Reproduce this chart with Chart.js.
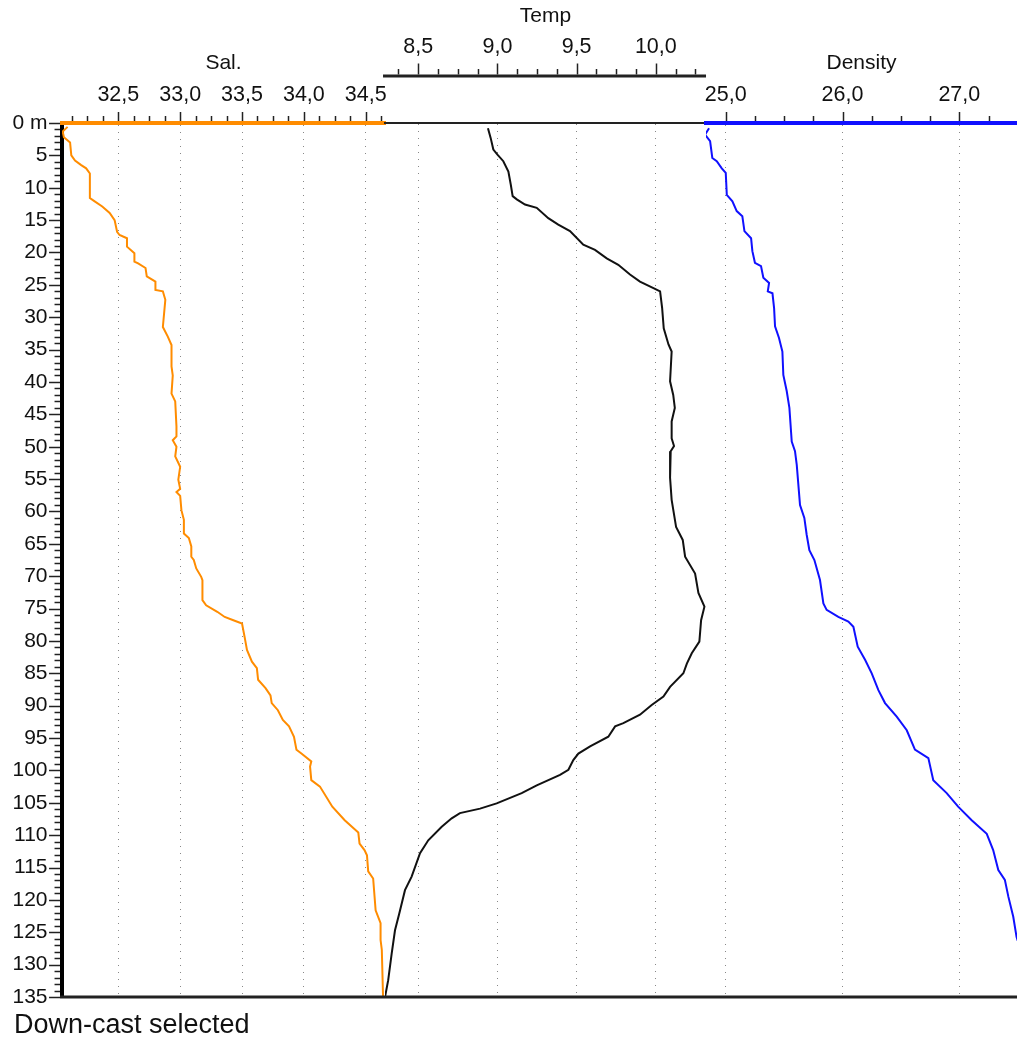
<!DOCTYPE html>
<html lang="en">
<head>
  <meta charset="UTF-8">
  <title>CTD profile</title>
  <script src="https://cdn.jsdelivr.net/npm/chart.js"></script>
  <style>
    html, body {
      margin: 0;
      background: #fff;
      font-family: "Liberation Sans", Arial, sans-serif;
    }
    #wrap {
      position: relative;
      width: 1017px;
      height: 1038px;
    }
    #status {
      position: absolute;
      left: 14px;
      top: 1011px;
      font-size: 27px;
      line-height: 1;
      color: #111;
    }
  </style>
</head>
<body>

<div id="wrap">
  <canvas id="profile"></canvas>
  <div id="status">Down-cast selected</div>
</div>

<script>
// tick labels
const depthTicks = [0, 5, 10, 15, 20, 25, 30, 35, 40, 45, 50, 55, 60, 65, 70, 75, 80, 85, 90, 95, 100, 105, 110, 115, 120, 125, 130, 135];
const salTicks = [32.5, 33.0, 33.5, 34.0, 34.5];
const tempTicks = [8.5, 9.0, 9.5, 10.0];
const densTicks = [25.0, 26.0, 27.0];

// axis limits
const salRange = [32.045, 34.656];
const tempRange = [8.29, 10.317];
const densRange = [24.831, 27.494];

// salinity
const salDepth = [0.6, 1.3, 2.2, 3.0, 5.0, 5.8, 6.5, 7.0, 7.8, 11.6, 12.0, 12.9, 13.9, 15.0, 16.8, 17.3, 17.8, 19.1, 20.1, 21.4,
  21.7, 22.4, 23.7, 24.5, 25.8, 26.0, 27.3, 31.5, 33.0, 34.3, 37.6, 39.0, 41.8, 43.0, 46.9, 48.4, 49.0, 50.0, 51.5, 53.1,
  55.1, 56.5, 57.0, 57.6, 59.8, 61.3, 63.4, 64.1, 65.4, 67.0, 67.5, 68.8, 70.1, 70.6, 73.7, 74.5, 75.5, 76.3, 76.8, 77.3,
  79.3, 81.4, 83.2, 84.2, 86.0, 87.3, 88.4, 89.6, 90.7, 92.2, 93.2, 94.8, 96.8, 97.4, 98.6, 99.4, 101.5, 102.5, 105.6, 107.7,
  109.6, 111.3, 112.3, 113.1, 115.6, 116.7, 121.6, 123.6, 126.2, 127.7, 135.0];
const salValues = [32.09, 32.05, 32.06, 32.11, 32.12, 32.15, 32.20, 32.24, 32.27, 32.27, 32.30, 32.37, 32.43, 32.47, 32.49, 32.51, 32.57, 32.57, 32.63, 32.63,
  32.66, 32.72, 32.73, 32.80, 32.80, 32.86, 32.88, 32.86, 32.90, 32.93, 32.93, 32.94, 32.93, 32.96, 32.97, 32.97, 32.94, 32.97, 32.96, 33.00,
  32.985, 33.00, 32.97, 33.00, 33.01, 33.03, 33.03, 33.07, 33.09, 33.09, 33.11, 33.13, 33.17, 33.18, 33.18, 33.21, 33.30, 33.36, 33.43, 33.50,
  33.52, 33.54, 33.58, 33.62, 33.63, 33.69, 33.73, 33.74, 33.79, 33.83, 33.88, 33.92, 33.94, 33.98, 34.06, 34.05, 34.06, 34.13, 34.23, 34.33,
  34.44, 34.45, 34.49, 34.51, 34.52, 34.56, 34.58, 34.62, 34.62, 34.63, 34.64];

// temperature
const tempDepth = [0.8, 2.3, 4.1, 4.9, 5.9, 7.5, 9.5, 11.3, 11.8, 12.6, 13.1, 14.7, 15.7, 16.7, 18.8, 19.6, 20.9, 21.9, 23.4, 24.5,
  25.5, 26.0, 28.6, 31.7, 34.2, 35.3, 39.9, 42.0, 44.0, 46.1, 48.7, 49.9, 50.7, 54.8, 58.2, 62.4, 64.4, 67.0, 69.6, 72.6,
  74.7, 76.8, 80.1, 81.9, 83.5, 85.0, 87.1, 88.6, 89.9, 91.4, 92.7, 93.2, 94.8, 96.3, 97.4, 98.4, 99.9, 100.7, 102.3, 103.5,
  105.1, 105.9, 106.6, 107.4, 108.7, 110.8, 112.8, 116.4, 118.5, 122.1, 124.7, 128.3, 132.4, 135.0];
const tempValues = [8.94, 8.957, 8.974, 9.0, 9.037, 9.069, 9.084, 9.096, 9.122, 9.174, 9.248, 9.321, 9.384, 9.458, 9.542, 9.616, 9.69, 9.763, 9.837, 9.90,
  9.985, 10.027, 10.04, 10.05, 10.08, 10.10, 10.09, 10.11, 10.12, 10.10, 10.10, 10.115, 10.094, 10.09, 10.10, 10.128, 10.17, 10.185, 10.248, 10.269,
  10.307, 10.286, 10.275, 10.227, 10.196, 10.174, 10.09, 10.048, 9.974, 9.90, 9.795, 9.743, 9.70, 9.585, 9.511, 9.479, 9.448, 9.395, 9.248, 9.153,
  8.995, 8.89, 8.763, 8.711, 8.648, 8.563, 8.511, 8.458, 8.416, 8.38, 8.353, 8.332, 8.31, 8.29];

// density
const densDepth = [0.8, 1.8, 2.8, 5.4, 5.9, 7.0, 7.7, 11.1, 12.1, 13.6, 14.4, 16.7, 17.8, 19.8, 21.6, 22.1, 23.9, 24.7, 26.0, 26.3,
  28.6, 31.4, 33.2, 35.3, 38.9, 41.4, 44.0, 49.2, 50.7, 52.8, 59.0, 61.0, 63.6, 66.0, 67.5, 70.6, 74.2, 75.2, 76.3, 77.0,
  77.8, 80.9, 82.9, 85.0, 87.6, 89.6, 91.7, 93.8, 96.8, 98.1, 101.5, 103.5, 105.6, 107.7, 109.8, 112.3, 115.4, 116.9, 119.5, 122.6,
  125.7, 126.3];
const densValues = [24.857, 24.823, 24.866, 24.885, 24.923, 24.966, 25.0, 25.009, 25.057, 25.094, 25.142, 25.16, 25.217, 25.228, 25.25, 25.302, 25.322, 25.371, 25.36, 25.40,
  25.414, 25.422, 25.456, 25.485, 25.493, 25.522, 25.545, 25.565, 25.593, 25.608, 25.636, 25.673, 25.693, 25.716, 25.759, 25.807, 25.836, 25.864, 25.964, 26.05,
  26.093, 26.13, 26.193, 26.25, 26.307, 26.364, 26.464, 26.55, 26.62, 26.735, 26.777, 26.892, 26.99, 27.106, 27.235, 27.29, 27.334, 27.39, 27.42, 27.462,
  27.49, 27.50];

const ORANGE = '#ff8c00';
const BLUE = '#1010ff';
const INK = '#111';
const FONT = '"Liberation Sans", Arial, sans-serif';

const toPoints = (depths, values) => depths.map((d, i) => ({ x: values[i], y: d }));
const comma = v => v.toFixed(1).replace('.', ',');
const setTicks = list => scale => { scale.ticks = list.map(v => ({ value: v })); };
// labels near the end of a short axis must not squeeze the plot
const noSidePadding = scale => { scale.paddingLeft = 0; scale.paddingRight = 0; };

// the temp axis line sits this far above the plot top
const TEMP_LINE_GAP = 47;

// tick marks (major + minor) and the extra axis lines
const axisMarks = {
  id: 'axisMarks',
  afterDraw(chart) {
    const { ctx, chartArea: area, scales } = chart;
    const line = (x1, y1, x2, y2) => {
      ctx.beginPath();
      ctx.moveTo(x1, y1);
      ctx.lineTo(x2, y2);
      ctx.stroke();
    };
    ctx.save();
    ctx.strokeStyle = '#222';

    // temp axis, floating above the others
    const tScale = scales.xTemp;
    const tY = tScale.bottom - TEMP_LINE_GAP;
    ctx.lineWidth = 3;
    line(tScale.left - 2, tY, tScale.right, tY);

    // bottom frame
    line(area.left - 2, area.bottom, area.right, area.bottom);

    ctx.lineWidth = 1.5;
    const tops = [
      { sc: scales.xSal, step: 0.125, major: salTicks, base: area.top - 2, big: 9, small: 5 },
      { sc: tScale, step: 0.125, major: tempTicks, base: tY - 1.5, big: 11, small: 5.5 },
      { sc: scales.xDens, step: 0.25, major: densTicks, base: area.top - 2, big: 9, small: 5 }
    ];
    for (const a of tops) {
      const first = Math.ceil(a.sc.min / a.step - 1e-6);
      for (let k = first; k * a.step <= a.sc.max + 1e-6; k++) {
        const v = k * a.step;
        const isMajor = a.major.some(t => Math.abs(t - v) < 1e-6);
        const px = Math.round(a.sc.getPixelForValue(v)) + 0.5;
        line(px, a.base, px, a.base - (isMajor ? a.big : a.small));
      }
    }

    // depth ticks every metre
    const ys = scales.y;
    for (let d = ys.min; d <= ys.max; d++) {
      const py = Math.round(ys.getPixelForValue(d)) + 0.5;
      const len = d % 5 === 0 ? 11 : 5.5;
      line(area.left - 2, py, area.left - 2 - len, py);
    }
    ctx.restore();
  }
};

const tickFont = { family: FONT, size: 21.5, lineHeight: 1 };
const titleFont = { family: FONT, size: 21, lineHeight: 1 };
const dotted = { color: '#888', lineWidth: 1, tickLength: 15.25, tickColor: 'rgba(0,0,0,0)' };

new Chart(document.getElementById('profile'), {
  type: 'scatter',
  data: {
    datasets: [
      {
        label: 'Sal.',
        data: toPoints(salDepth, salValues),
        xAxisID: 'xSal',
        yAxisID: 'y',
        showLine: true,
        borderColor: ORANGE,
        borderWidth: 2,
        pointRadius: 0,
        tension: 0
      },
      {
        label: 'Temp',
        data: toPoints(tempDepth, tempValues),
        xAxisID: 'xTemp',
        yAxisID: 'y',
        showLine: true,
        borderColor: INK,
        borderWidth: 2,
        pointRadius: 0,
        tension: 0
      },
      {
        label: 'Density',
        data: toPoints(densDepth, densValues),
        xAxisID: 'xDens',
        yAxisID: 'y',
        showLine: true,
        borderColor: BLUE,
        borderWidth: 2,
        pointRadius: 0,
        tension: 0
      }
    ]
  },
  options: {
    responsive: true,
    maintainAspectRatio: false,
    animation: false,
    layout: { padding: { top: 4, left: 8, right: 0, bottom: 41 } },
    plugins: {
      legend: { display: false },
      tooltip: { enabled: false }
    },
    scales: {
      y: {
        type: 'linear',
        position: 'left',
        reverse: true,
        min: 0,
        max: 135,
        afterBuildTicks: setTicks(depthTicks),
        ticks: {
          autoSkip: false,
          padding: 4.5,
          color: INK,
          font: { family: FONT, size: 21, lineHeight: 1 },
          callback: v => v === 0 ? '0 m' : String(v)
        },
        grid: { drawOnChartArea: false, tickLength: 10, tickColor: 'rgba(0,0,0,0)' },
        border: { display: true, color: '#000', width: 4 }
      },
      // the three top axes share one stack, side by side
      xSal: {
        type: 'linear',
        position: 'top',
        stack: 'top',
        stackWeight: 323,
        weight: 3,
        min: salRange[0],
        max: salRange[1],
        afterBuildTicks: setTicks(salTicks),
        afterFit: noSidePadding,
        ticks: { autoSkip: false, maxRotation: 0, padding: 2, color: INK, font: tickFont, callback: comma },
        grid: dotted,
        border: { display: true, color: ORANGE, width: 4, dash: [1, 6] },
        title: { display: true, text: 'Sal.', color: INK, font: titleFont, padding: { top: 48.5, bottom: 8.75 } }
      },
      xTemp: {
        type: 'linear',
        position: 'top',
        stack: 'top',
        stackWeight: 321,
        weight: 2,
        min: tempRange[0],
        max: tempRange[1],
        afterBuildTicks: setTicks(tempTicks),
        afterFit: noSidePadding,
        ticks: { autoSkip: false, maxRotation: 0, padding: 2, color: INK, font: tickFont, callback: comma },
        grid: { ...dotted, tickLength: 62.75 },
        border: { display: true, color: '#222', width: 2, dash: [1, 6] },
        title: { display: true, text: 'Temp', color: INK, font: titleFont, padding: { top: 1.5, bottom: 8.25 } }
      },
      xDens: {
        type: 'linear',
        position: 'top',
        stack: 'top',
        stackWeight: 311,
        weight: 1,
        min: densRange[0],
        max: densRange[1],
        afterBuildTicks: setTicks(densTicks),
        afterFit: noSidePadding,
        ticks: { autoSkip: false, maxRotation: 0, padding: 2, color: INK, font: tickFont, callback: comma },
        grid: dotted,
        border: { display: true, color: BLUE, width: 4, dash: [1, 6] },
        title: { display: true, text: 'Density', color: INK, font: titleFont, padding: { top: 48.5, bottom: 8.75 } }
      }
    }
  },
  plugins: [axisMarks]
});
</script>

</body>
</html>
